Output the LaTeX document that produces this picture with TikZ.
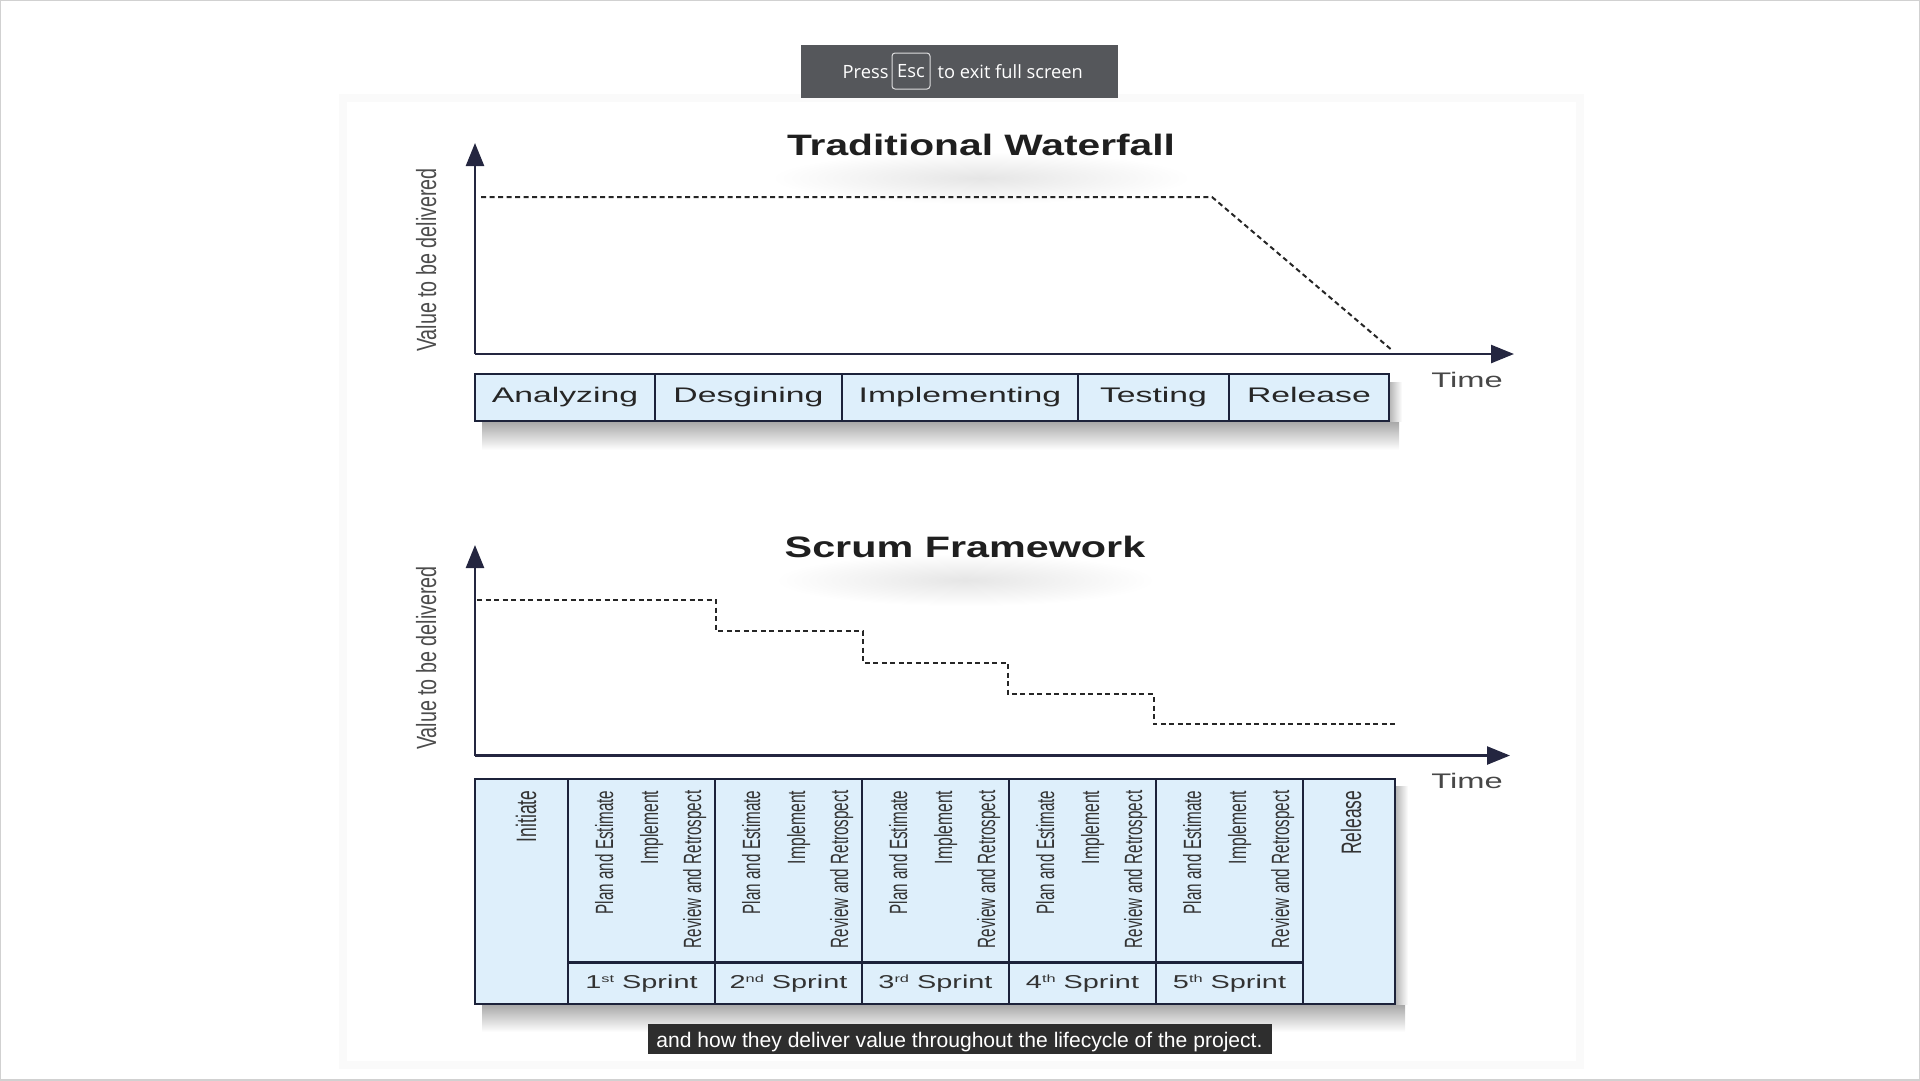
\documentclass[tikz,border=0pt]{standalone}
\usepackage{fontspec}
\setmainfont{Liberation Sans}
\newfontfamily\uifont{Open Sans}
\usepackage{graphicx}
\usetikzlibrary{arrows.meta}
\definecolor{axisColor}{RGB}{36,38,64}
\definecolor{boxColor}{RGB}{222,239,251}
\definecolor{lineColor}{RGB}{28,34,58}
\definecolor{barColor}{RGB}{85,87,91}
\definecolor{subColor}{RGB}{46,46,46}
\newcommand{\titlefont}{\fontsize{8.4}{10}\selectfont\bfseries}
\newcommand{\labfont}{\fontsize{6}{7}\selectfont}
\newcommand{\narrowfont}{\fontsize{7.1}{8}\selectfont}
\newcommand{\wide}[2]{\scalebox{#1}[1]{#2}}
\newcommand{\ordmark}[1]{\raisebox{0.55ex}{\fontsize{3}{3}\selectfont #1}}

\tikzset{
  axis/.style={draw=axisColor, line width=0.25mm, -{Triangle[length=2.3mm,width=1.8mm]}},
  value/.style={draw=black!85, line width=0.2mm, dash pattern=on 0.5mm off 0.35mm},
  phase/.style={draw=lineColor, line width=0.2mm, fill=boxColor, minimum height=4.7mm,
    inner sep=0, outer sep=0, text height=4.3pt, text depth=1.3pt, text=black!85},
  cell/.style={draw=lineColor, line width=0.25mm, fill=boxColor, inner sep=0, outer sep=0, anchor=north west},
  vtext/.style={rotate=90, anchor=base east, inner sep=0, text=black!80},
}

\begin{document}
\begin{tikzpicture}[x=0.1mm,y=-0.1mm]
    \useasboundingbox (0,0) rectangle (1920,1080);
    \draw[black!18, line width=0.2mm] (0,0) rectangle (1920,1080);
    \draw[black!2, line width=0.8mm] (343,98) rectangle (1580,1065);

    % full screen hint
    \node[fill=barColor, minimum width=31.7mm, minimum height=5.3mm, inner sep=0] (bar) at (959.5,71.5) {};
    \node[anchor=base west, inner sep=0, text=white] (press) at (842,78) {\uifont\fontsize{5.2}{6}\selectfont Press};
    \node[draw=white!80!barColor, rounded corners=0.3mm, line width=0.1mm, minimum width=3.8mm,
      minimum height=3.6mm, inner sep=0, text=white] (esc) at (911,71) {\uifont\fontsize{5.2}{6}\selectfont Esc};
    \node[anchor=base west, inner sep=0, text=white] (exit) at (937,78) {\uifont\fontsize{5.2}{6}\selectfont to exit full screen};

    % traditional waterfall
    \shade[inner color=black!10, outer color=white] (981,178) ellipse [x radius=21mm, y radius=2.6mm];
    \node[text=black!88] (wfTitle) at (981,145) {\titlefont\wide{1.38}{Traditional Waterfall}};

    \coordinate (O1) at (475,354);
    \coordinate (Y1) at (475,143);
    \coordinate (X1) at (1514,354);
    \draw[axis] (O1) -- (Y1);
    \draw[axis] (O1) -- (X1);
    \node[vtext, anchor=base, text=black!70] (val1) at (436,260) {\fontsize{7.9}{9}\selectfont\wide{0.71}{Value to be delivered}};
    \node[anchor=base, text=black!72] (time1) at (1467,387) {\labfont\wide{1.55}{Time}};

    \draw[value] (481,197) -- (1212,197) -- (1393,351);

    \shade[top color=black!35, bottom color=white] (482,421) rectangle (1399,450);
    \shade[left color=black!30, right color=white] (1389,382) rectangle (1402,421);
    \node[phase, minimum width=18mm] (ana) at (565,397.5) {\labfont\wide{1.6}{Analyzing}};
    \node[phase, minimum width=18.7mm] (des) at (748.5,397.5) {\labfont\wide{1.6}{Desgining}};
    \node[phase, minimum width=23.6mm] (imp) at (960,397.5) {\labfont\wide{1.6}{Implementing}};
    \node[phase, minimum width=15.1mm] (tes) at (1153.5,397.5) {\labfont\wide{1.6}{Testing}};
    \node[phase, minimum width=16mm] (rel) at (1309,397.5) {\labfont\wide{1.6}{Release}};

    % scrum framework
    \shade[inner color=black!10, outer color=white] (965,580) ellipse [x radius=19mm, y radius=2.6mm];
    \node[text=black!88] (scTitle) at (965,547) {\titlefont\wide{1.40}{Scrum Framework}};

    \coordinate (O2) at (475,755.5);
    \coordinate (Y2) at (475,545);
    \coordinate (X2) at (1510,755.5);
    \draw[axis] (O2) -- (Y2);
    \draw[axis] (O2) -- (X2);
    \node[vtext, anchor=base, text=black!70] (val2) at (436,658) {\fontsize{7.9}{9}\selectfont\wide{0.71}{Value to be delivered}};
    \node[anchor=base, text=black!72] (time2) at (1467,788) {\labfont\wide{1.55}{Time}};

    \draw[value] (477,600) -| (716,630.6) -| (863,662.5) -| (1008,694) -| (1153.5,723.7) -- (1396,723.7);

    \shade[top color=black!35, bottom color=white] (482,1004) rectangle (1405,1032);
    \shade[left color=black!30, right color=white] (1395,786) rectangle (1408,1004);
    \node[cell, minimum width=9.3mm, minimum height=22.5mm] (init) at (475,779) {};
    \node[vtext] (initT) at (536,790) {\fontsize{8}{9}\selectfont\wide{0.62}{Initiate}};
    \foreach \i/\ord in {1/st,2/nd,3/rd,4/th,5/th} {
      \pgfmathsetmacro{\xl}{568+147*(\i-1)}
      \node[cell, minimum width=14.7mm, minimum height=18.35mm] (sp\i) at (\xl,779) {};
      \node[cell, minimum width=14.7mm, minimum height=4.15mm] (sn\i) at (\xl,962.5) {};
      \node[vtext] (pe\i) at (\xl+45,790) {\narrowfont\wide{0.61}{Plan and Estimate}};
      \node[vtext] (im\i) at (\xl+90,790) {\narrowfont\wide{0.63}{Implement}};
      \node[vtext] (rr\i) at (\xl+133,790) {\narrowfont\wide{0.61}{Review and Retrospect}};
      \node[anchor=base, inner sep=0, text=black!80] (sl\i) at (\xl+73.5,988) {\fontsize{5.3}{6}\selectfont\wide{1.55}{\i\ordmark{\ord}\ Sprint}};
    }
    \node[cell, minimum width=9.2mm, minimum height=22.5mm] (relS) at (1303,779) {};
    \node[vtext] (relT) at (1361,790) {\fontsize{8}{9}\selectfont\wide{0.62}{Release}};

    % caption
    \node[fill=subColor, minimum width=62.4mm, minimum height=3mm, inner sep=0] (capBar) at (960,1039) {};
    \node[anchor=base, inner sep=0, text=white] (cap) at (959.5,1047) {\fontsize{6}{7}\selectfont and how they deliver value throughout the lifecycle of the project.};
\end{tikzpicture}
\end{document}
